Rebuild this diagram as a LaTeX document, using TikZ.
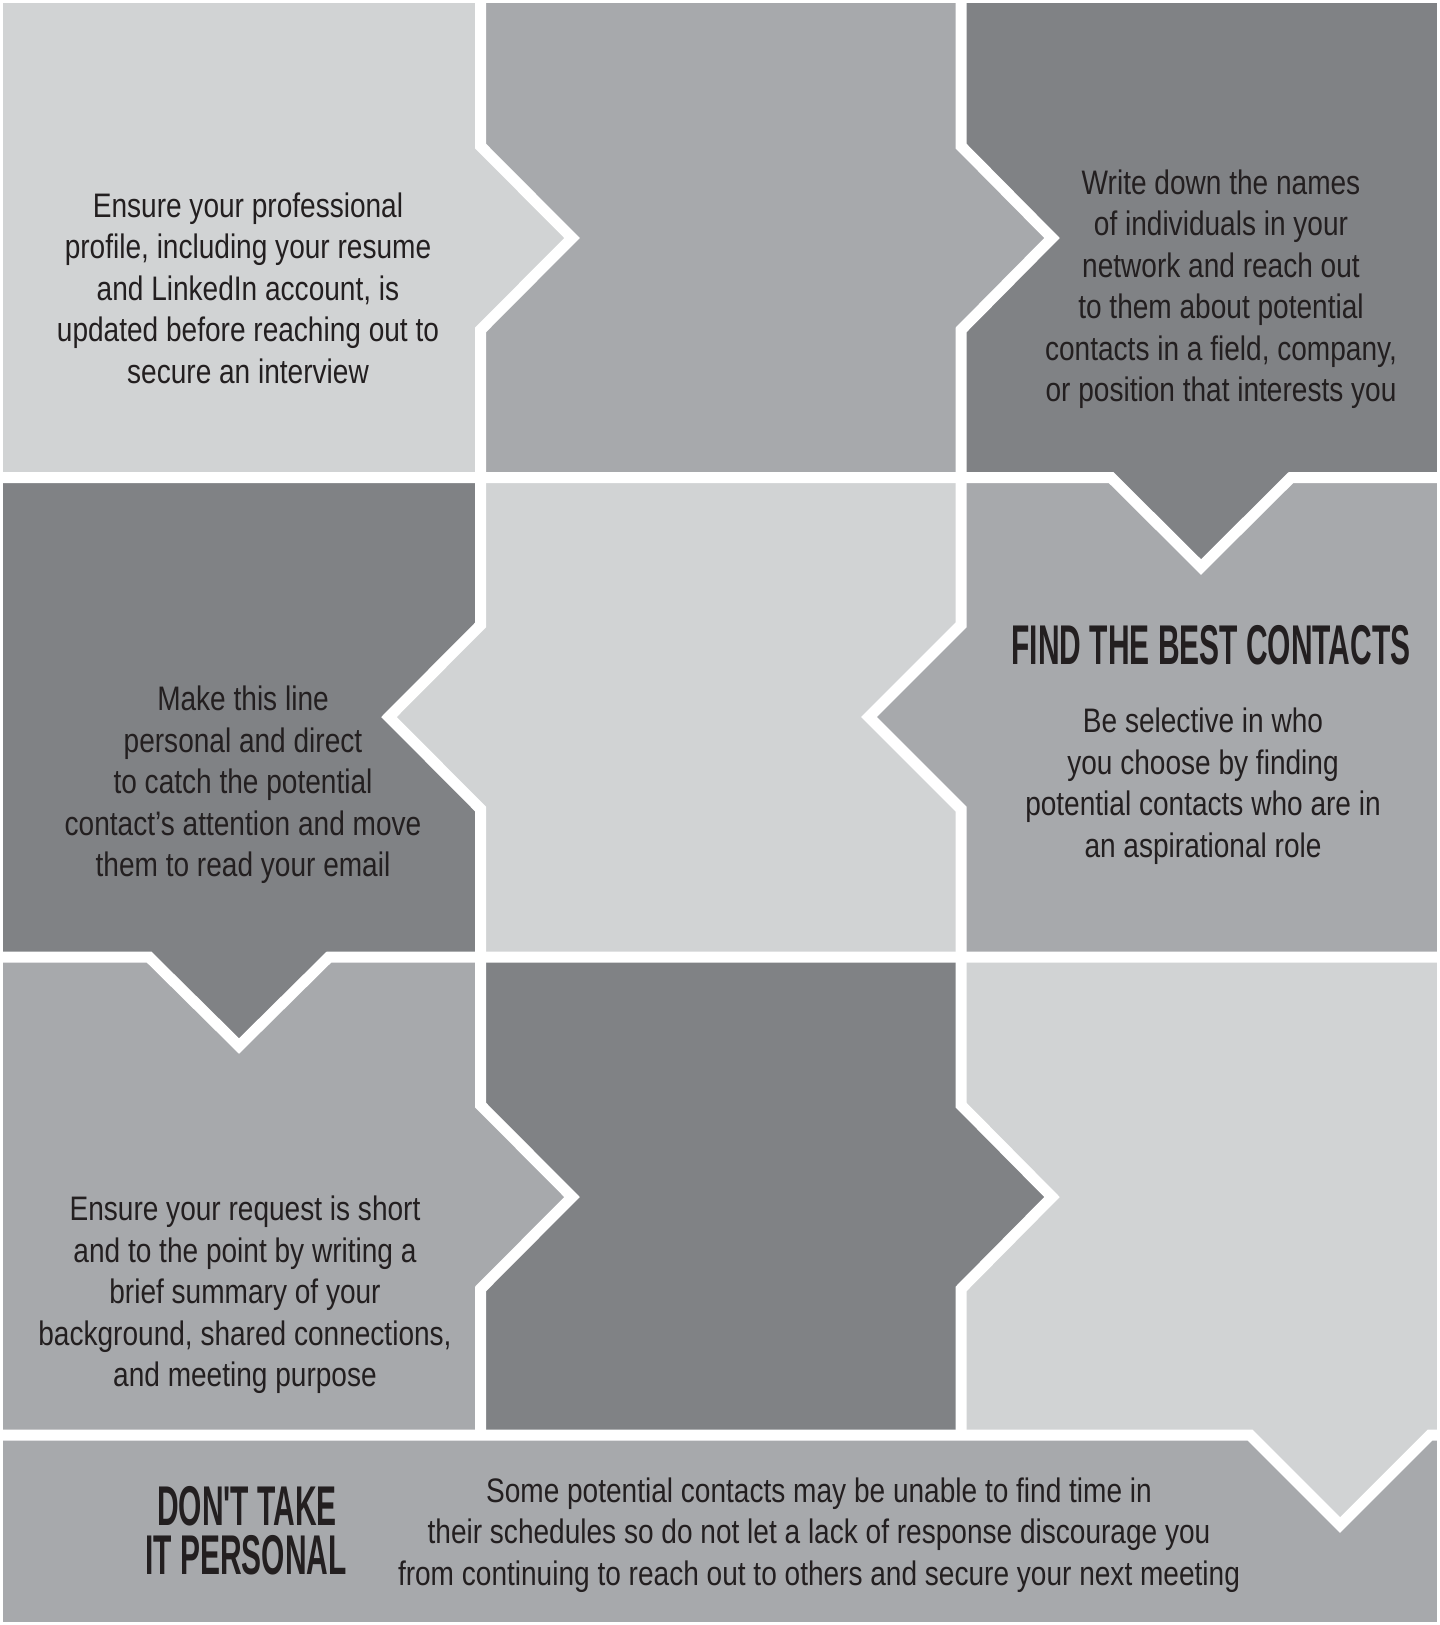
\documentclass[tikz,border=0pt]{standalone}
\usepackage{fontspec}
\setmainfont{Liberation Sans}[FakeStretch=0.825]
\newfontfamily\headfam{Liberation Sans Bold}[FakeStretch=0.535]
\definecolor{lightg}{HTML}{D1D3D4}
\definecolor{midg}{HTML}{A7A9AC}
\definecolor{darkg}{HTML}{808285}
\definecolor{txt}{HTML}{231F20}
\newcommand\mybody{\fontsize{34}{41.5}\selectfont}
\newcommand\myhead{\headfam\fontsize{56}{49}\selectfont}
\begin{document}
\begin{tikzpicture}[x=1pt,y=-1pt,
  gap/.style={draw=white,line width=11pt,miter limit=10,line join=miter},
  body/.style={font=\mybody,align=center,text=txt,inner sep=0pt},
  head/.style={font=\myhead,align=center,text=txt,inner sep=0pt},
  headline/.style={head,text height=41pt,text depth=0pt,anchor=base}]
\useasboundingbox (0,0) rectangle (1440,1625);
\fill[white] (0,0) rectangle (1440,1625);
% row 1
\fill[lightg] (3,3) rectangle (480.5,477.5);
\fill[midg] (480.5,3) rectangle (961,477.5);
\fill[darkg] (961,3) rectangle (1436.5,477.5);
% row 2
\fill[darkg] (3,477.5) rectangle (480.5,957);
\fill[lightg] (480.5,477.5) rectangle (961,957);
\fill[midg] (961,477.5) rectangle (1436.5,957);
% row 3
\fill[midg] (3,957) rectangle (480.5,1435);
\fill[darkg] (480.5,957) rectangle (961,1435);
\fill[lightg] (961,957) rectangle (1436.5,1435);
% row 4
\fill[midg] (3,1435) rectangle (1436.5,1622);
% chevron heads (bases overlap their own cell to avoid seams)
\fill[lightg] (470,136) -- (572,238) -- (470,340) -- cycle;
\fill[midg] (950,136) -- (1052,238) -- (950,340) -- cycle;
\fill[darkg] (1101,467) -- (1201,567) -- (1301,467) -- cycle;
\fill[lightg] (491,615) -- (389,717) -- (491,819) -- cycle;
\fill[midg] (971,615) -- (869,717) -- (971,819) -- cycle;
\fill[darkg] (139,947) -- (239,1046) -- (339,947) -- cycle;
\fill[midg] (470,1095) -- (572,1197) -- (470,1299) -- cycle;
\fill[darkg] (950,1095) -- (1052,1197) -- (950,1299) -- cycle;
\fill[lightg] (1240,1425) -- (1340,1525) -- (1436.5,1428.5) -- (1436.5,1425) -- cycle;
% white gaps
\draw[gap] (480.5,0) -- (480.5,146) -- (572,238) -- (480.5,330) -- (480.5,477.5);
\draw[gap] (961,0) -- (961,146) -- (1052,238) -- (961,330) -- (961,477.5);
\draw[gap] (0,477.5) -- (1111,477.5) -- (1201,567) -- (1291,477.5) -- (1440,477.5);
\draw[gap] (480.5,477.5) -- (480.5,625) -- (389,717) -- (480.5,809) -- (480.5,957);
\draw[gap] (961,477.5) -- (961,625) -- (869,717) -- (961,809) -- (961,957);
\draw[gap] (0,957) -- (149,957) -- (239,1046) -- (329,957) -- (1440,957);
\draw[gap] (480.5,957) -- (480.5,1105) -- (572,1197) -- (480.5,1289) -- (480.5,1435);
\draw[gap] (961,957) -- (961,1105) -- (1052,1197) -- (961,1289) -- (961,1435);
\draw[gap] (0,1435) -- (1250,1435) -- (1340,1525) -- (1430,1435) -- (1440,1435);
\fill[white] (1436.5,0) rectangle (1440,1625);
% texts
\node[body] (t1) at (248,288) {Ensure your professional\\profile, including your resume\\and LinkedIn account, is\\updated before reaching out to\\secure an interview};
\node[body] (t3) at (1221,289) {Write down the names\\of individuals in your\\network and reach out\\to them about potential\\contacts in a field, company,\\or position that interests you};
\node[body] (t4) at (243,785) {Make this line\\personal and direct\\to catch the potential\\contact’s attention and move\\them to read your email};
\node[head] (h6) at (1211,645) {FIND THE BEST CONTACTS};
\node[body] (t6) at (1203,786) {Be selective in who\\you choose by finding\\potential contacts who are in\\an aspirational role};
\node[body] (t7) at (245,1295) {Ensure your request is short\\and to the point by writing a\\brief summary of your\\background, shared connections,\\and meeting purpose};
\node[headline] (h10a) at (247,1525) {DON\char"0027T TAKE};
\node[headline] (h10b) at (246,1574) {IT PERSONAL};
\node[body] (t10) at (819,1535) {Some potential contacts may be unable to find time in\\their schedules so do not let a lack of response discourage you\\from continuing to reach out to others and secure your next meeting};
\end{tikzpicture}
\end{document}
